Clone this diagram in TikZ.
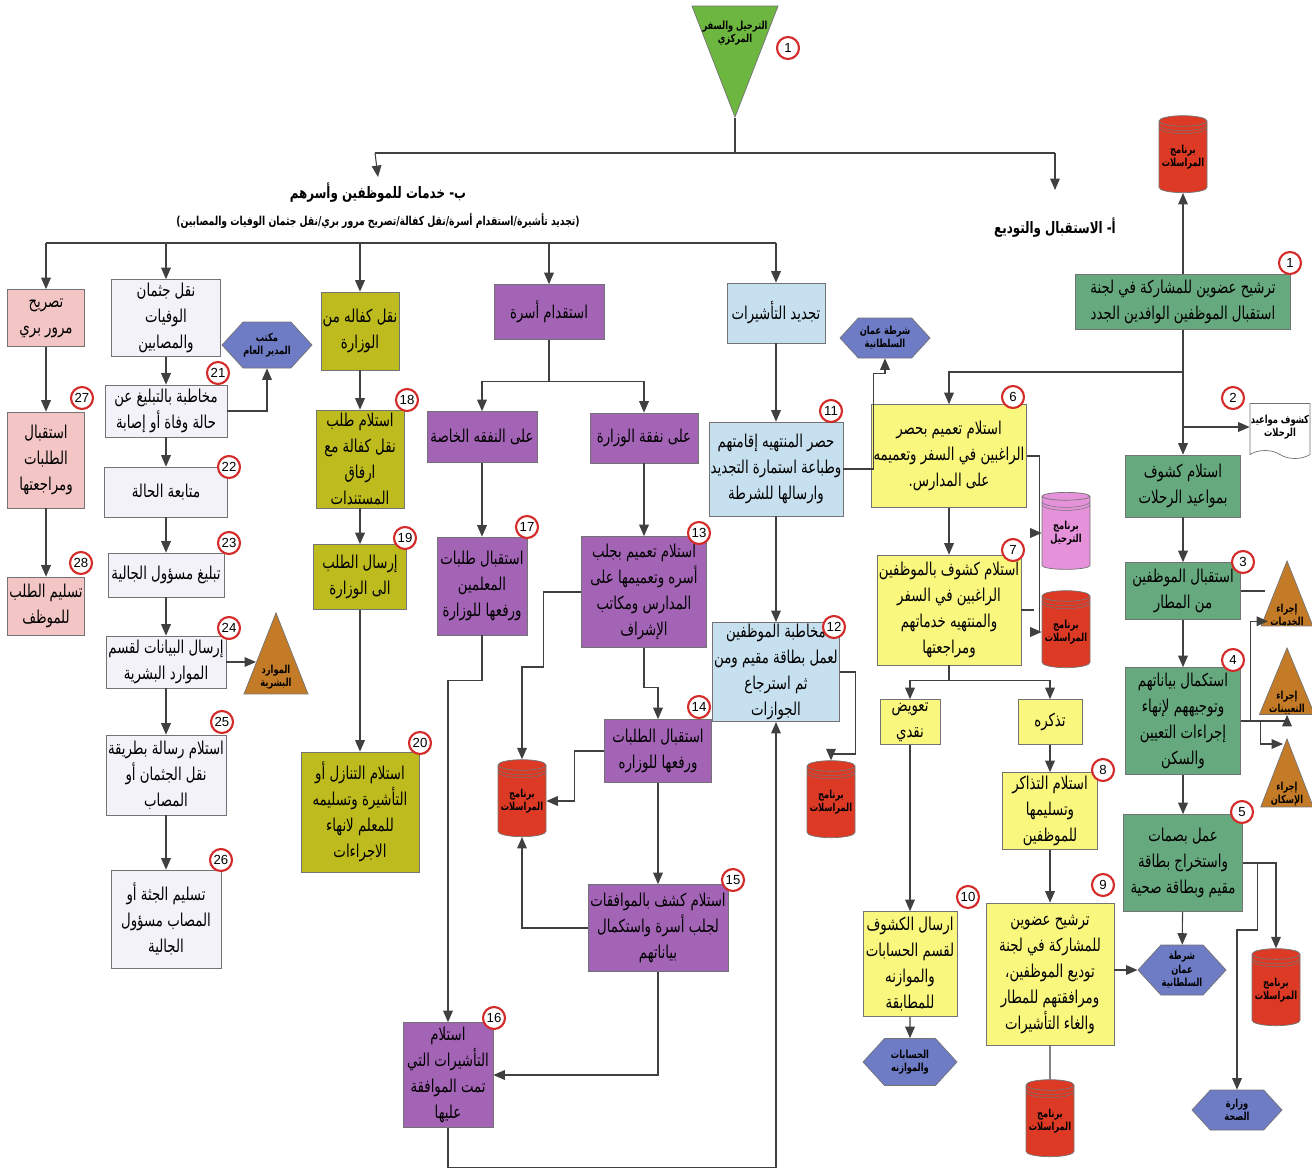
\documentclass[tikz,border=0pt]{standalone}
\usepackage{fontspec}
\setmainfont{Liberation Sans}
\newfontfamily\arabicfont[Script=Arabic, FakeStretch=0.75]{DejaVu Sans}
\usetikzlibrary{arrows.meta, shapes.geometric, shapes.symbols, calc}
\TeXXeTstate=1
\newcommand{\AR}[1]{\beginR#1\endR}
\definecolor{flowGreen}{HTML}{67A97E}
\definecolor{topGreen}{HTML}{6DB640}
\definecolor{flowYellow}{HTML}{F9F77E}
\definecolor{flowBlue}{HTML}{C6E0EF}
\definecolor{flowPurple}{HTML}{A464B6}
\definecolor{flowOlive}{HTML}{BEBB1E}
\definecolor{flowWhite}{HTML}{F2F2F8}
\definecolor{flowPink}{HTML}{F3C5C5}
\definecolor{cylRed}{HTML}{DD3A25}
\definecolor{cylPink}{HTML}{E592DA}
\definecolor{hexBlue}{HTML}{6E7CC6}
\definecolor{triBrown}{HTML}{C47B27}
\definecolor{ringRed}{HTML}{D42A2A}

\begin{document}
\begin{tikzpicture}[x=0.02cm, y=-0.02cm, >={Triangle[length=6.5pt,width=5.5pt]},
    sz/.style 2 args={minimum width=#1*0.02cm, minimum height=#2*0.02cm},
    box/.style={draw=black!55, fill=#1, align=center, inner sep=1pt,
                font=\arabicfont\fontsize{10.1}{14.8}\selectfont},
    lbl/.style={font=\arabicfont\bfseries\fontsize{6.3}{7.6}\selectfont, align=center},
    cyl/.style={cylinder, shape border rotate=90, aspect=0.25, draw=black!55,
                cylinder uses custom fill, cylinder body fill=#1, cylinder end fill=#1,
                sz={48}{77}, inner sep=0pt, lbl,
                path picture={\foreach \k in {1,2}
                  \draw[black!55, line width=0.3pt]
                    ([yshift=-0.12cm-\k*0.06cm]path picture bounding box.north west)
                    arc[start angle=180, end angle=360, x radius=0.48cm, y radius=0.12cm];}},
    tri/.style={isosceles triangle, isosceles triangle stretches, shape border rotate=90,
                draw=black!55, fill=#1, inner sep=0pt, lbl},
    hex/.style={signal, signal to=west and east, signal pointer angle=95,
                draw=black!55, fill=hexBlue, inner sep=0pt, lbl},
    docshape/.style={tape, tape bend top=none, tape bend bottom=out and in, tape bend height=0.16cm,
                draw=black!55, fill=white, inner sep=0pt, lbl},
    hdg/.style={font=\arabicfont\bfseries\fontsize{9}{11}\selectfont},
    hdgsub/.style={font=\arabicfont\bfseries\fontsize{7}{9}\selectfont},
    num/.style={circle, draw=ringRed, line width=1.2pt, fill=white, inner sep=0pt,
                minimum size=0.44cm, font=\fontsize{7.5}{8}\selectfont},
    ln/.style={draw=black!75, line width=0.6pt},
    arr/.style={->, draw=black!75, line width=0.6pt}]

  \useasboundingbox (0,0) rectangle (1312,1174);

  % top
  \node[tri=topGreen, shape border rotate=270, anchor=apex, sz={86}{111}] (T) at (735,118) {};
  \node[lbl] (Tlbl) at (735,33) {\AR{الترحيل والسفر}\\\AR{المركزي}};
  \node[hdg] (secB) at (378,193) {\AR{ب- خدمات للموظفين وأسرهم}};
  \node[hdgsub] (secBsub) at (378,221)
        {\AR{(تجديد تأشيرة/استقدام أسرة/نقل كفالة/تصريح مرور بري/نقل جثمان الوفيات والمصابين)}};
  \node[hdg] (secA) at (1055,228) {\AR{أ- الاستقبال والتوديع}};

  % a - reception and farewell
  \node[cyl=cylRed] (cylTop) at (1183,157) {\AR{برنامج}\\\AR{المراسلات}};
  \node[box=flowGreen, sz={215}{55}] (r1) at (1183,302)
        {\AR{ترشيح عضوين للمشاركة في لجنة}\\\AR{استقبال الموظفين الوافدين الجدد}};
  \node[docshape, sz={60}{55}] (doc) at (1280,427) {\AR{كشوف مواعيد}\\\AR{الرحلات}};
  \node[box=flowGreen, sz={115}{62}] (r2) at (1183,486) {\AR{استلام كشوف}\\\AR{بمواعيد الرحلات}};
  \node[box=flowGreen, sz={115}{57}] (r3) at (1183,591) {\AR{استقبال الموظفين}\\\AR{من المطار}};
  \node[box=flowGreen, sz={115}{107}] (r4) at (1183,721)
        {\AR{استكمال بياناتهم}\\\AR{وتوجيههم لإنهاء}\\\AR{إجراءات التعيين}\\\AR{والسكن}};
  \node[box=flowGreen, sz={119}{97}] (r5) at (1183,863)
        {\AR{عمل بصمات}\\\AR{واستخراج بطاقة}\\\AR{مقيم وبطاقة صحية}};
  \node[tri=triBrown, anchor=apex, sz={50}{65}] (triA) at (1287,560) {\AR{إجراء}\\\AR{الخدمات}};
  \node[tri=triBrown, anchor=apex, sz={50}{65}] (triB) at (1287,647) {\AR{إجراء}\\\AR{التعيينات}};
  \node[tri=triBrown, anchor=apex, sz={50}{68}] (triC) at (1287,738) {\AR{إجراء}\\\AR{الإسكان}};
  \node[hex, sz={88}{50}] (hexPol2) at (1182,970) {\AR{شرطة}\\\AR{عمان}\\\AR{السلطانية}};
  \node[cyl=cylRed] (cylR5) at (1276,990) {\AR{برنامج}\\\AR{المراسلات}};
  \node[hex, sz={90}{40}] (hexHealth) at (1237,1110) {\AR{وزارة}\\\AR{الصحة}};

  \node[box=flowYellow, sz={142}{103}] (y6) at (949,456)
        {\AR{استلام تعميم بحصر}\\\AR{الراغبين في السفر وتعميمه}\\\AR{على المدارس.}};
  \node[box=flowYellow, sz={142}{110}] (y7) at (949,610)
        {\AR{استلام كشوف بالموظفين}\\\AR{الراغبين في السفر}\\\AR{والمنتهيه خدماتهم}\\\AR{ومراجعتها}};
  \node[cyl=cylPink] (cylPink) at (1066,533) {\AR{برنامج}\\\AR{الترحيل}};
  \node[cyl=cylRed] (cylY7) at (1066,632) {\AR{برنامج}\\\AR{المراسلات}};
  \node[box=flowYellow, sz={60}{45}] (cash) at (910,722) {\AR{تعويض}\\\AR{نقدي}};
  \node[box=flowYellow, sz={64}{45}] (ticket) at (1050,722) {\AR{تذكره}};
  \node[box=flowYellow, sz={95}{77}] (y8) at (1050,811)
        {\AR{استلام التذاكر}\\\AR{وتسليمها}\\\AR{للموظفين}};
  \node[box=flowYellow, sz={128}{142}] (y9) at (1050,974)
        {\AR{ترشيح عضوين}\\\AR{للمشاركة في لجنة}\\\AR{توديع الموظفين،}\\\AR{ومرافقتهم للمطار}\\\AR{والغاء التأشيرات}};
  \node[cyl=cylRed] (cylY9) at (1050,1121) {\AR{برنامج}\\\AR{المراسلات}};
  \node[box=flowYellow, sz={94}{105}] (y10) at (910,964)
        {\AR{ارسال الكشوف}\\\AR{لقسم الحسابات}\\\AR{والموازنه}\\\AR{للمطابقة}};
  \node[hex, sz={94}{47}] (hexAcc) at (910,1062) {\AR{الحسابات}\\\AR{والموازنه}};

  % b - services
  \node[box=flowBlue, sz={98}{60}] (b0) at (776,313) {\AR{تجديد التأشيرات}};
  \node[hex, sz={90}{40}] (hexPol1) at (885,338) {\AR{شرطة عمان}\\\AR{السلطانية}};
  \node[box=flowBlue, sz={121}{94}] (b11) at (776,469)
        {\AR{حصر المنتهيه إقامتهم}\\\AR{وطباعة استمارة التجديد}\\\AR{وارسالها للشرطة}};
  \node[box=flowBlue, sz={118}{91}] (b12) at (776,672)
        {\AR{مخاطبة الموظفين}\\\AR{لعمل بطاقة مقيم ومن}\\\AR{ثم استرجاع}\\\AR{الجوازات}};
  \node[cyl=cylRed] (cylB) at (831,802) {\AR{برنامج}\\\AR{المراسلات}};

  \node[box=flowPurple, sz={110}{55}] (p0) at (549,312) {\AR{استقدام أسرة}};
  \node[box=flowPurple, sz={110}{51}] (pPriv) at (482,437) {\AR{على النفقه الخاصة}};
  \node[box=flowPurple, sz={108}{50}] (pMin) at (644,438) {\AR{على نفقة الوزارة}};
  \node[box=flowPurple, sz={125}{111}] (p13) at (644,592)
        {\AR{استلام تعميم بجلب}\\\AR{أسره وتعميمها على}\\\AR{المدارس ومكاتب}\\\AR{الإشراف}};
  \node[box=flowPurple, sz={90}{98}] (p17) at (482,586)
        {\AR{استقبال طلبات}\\\AR{المعلمين}\\\AR{ورفعها للوزارة}};
  \node[box=flowPurple, sz={107}{63}] (p14) at (658,751) {\AR{استقبال الطلبات}\\\AR{ورفعها للوزاره}};
  \node[cyl=cylRed] (cylP) at (522,801) {\AR{برنامج}\\\AR{المراسلات}};
  \node[box=flowPurple, sz={140}{87}] (p15) at (658,928)
        {\AR{استلام كشف بالموافقات}\\\AR{لجلب أسرة واستكمال}\\\AR{بياناتهم}};
  \node[box=flowPurple, sz={90}{105}] (p16) at (448,1075)
        {\AR{استلام}\\\AR{التأشيرات التي}\\\AR{تمت الموافقة}\\\AR{عليها}};

  \node[box=flowOlive, sz={76}{78}] (o0) at (360,331) {\AR{نقل كفاله من}\\\AR{الوزارة}};
  \node[box=flowOlive, sz={88}{98}] (o18) at (360,459)
        {\AR{استلام طلب}\\\AR{نقل كفالة مع}\\\AR{ارفاق}\\\AR{المستندات}};
  \node[box=flowOlive, sz={93}{65}] (o19) at (360,577) {\AR{إرسال الطلب}\\\AR{الى الوزارة}};
  \node[box=flowOlive, sz={118}{120}] (o20) at (360,812)
        {\AR{استلام التنازل أو}\\\AR{التأشيرة وتسليمه}\\\AR{للمعلم لانهاء}\\\AR{الاجراءات}};

  \node[box=flowWhite, sz={109}{77}] (w0) at (166,318) {\AR{نقل جثمان}\\\AR{الوفيات}\\\AR{والمصابين}};
  \node[hex, sz={90}{46}] (hexDG) at (267,345) {\AR{مكتب}\\\AR{المدير العام}};
  \node[box=flowWhite, sz={122}{52}] (w21) at (166,411) {\AR{مخاطبة بالتبليغ عن}\\\AR{حالة وفاة أو إصابة}};
  \node[box=flowWhite, sz={123}{50}] (w22) at (166,492) {\AR{متابعة الحالة}};
  \node[box=flowWhite, sz={116}{44}] (w23) at (166,575) {\AR{تبليغ مسؤول الجالية}};
  \node[box=flowWhite, sz={120}{52}] (w24) at (166,662) {\AR{إرسال البيانات لقسم}\\\AR{الموارد البشرية}};
  \node[tri=triBrown, anchor=apex, sz={64}{81}] (triHR) at (276,612) {\AR{الموارد}\\\AR{البشرية}};
  \node[box=flowWhite, sz={120}{80}] (w25) at (166,775)
        {\AR{استلام رسالة بطريقة}\\\AR{نقل الجثمان أو}\\\AR{المصاب}};
  \node[box=flowWhite, sz={110}{98}] (w26) at (166,919)
        {\AR{تسليم الجثة أو}\\\AR{المصاب مسؤول}\\\AR{الجالية}};

  \node[box=flowPink, sz={77}{57}] (k0) at (46,318) {\AR{تصريح}\\\AR{مرور بري}};
  \node[box=flowPink, sz={77}{96}] (k27) at (46,460) {\AR{استقبال}\\\AR{الطلبات}\\\AR{ومراجعتها}};
  \node[box=flowPink, sz={75}{58}] (k28) at (46,606) {\AR{تسليم الطلب}\\\AR{للموظف}};

  % connectors
  \coordinate (hl) at (375,153);
  \coordinate (hr) at (1055,153);
  \coordinate (aEnd) at (1055,190);
  \draw[ln] (T.apex) -- (T.apex |- hl);
  \draw[ln] (hl) -- (hr);
  \draw[arr] (hl) -- (secB.north);
  \draw[arr] (hr) -- (aEnd);

  \coordinate (j1) at (1183,372);
  \draw[arr] (r1) -- (cylTop);
  \draw[arr] (j1) -| (y6.north);
  \draw[arr] (r2.north |- doc.west) -- (doc.west);
  \foreach \a/\b in {r1/r2,r2/r3,r3/r4,r4/r5,r5/hexPol2} {
    \draw[arr] (\a) -- (\b);
  }
  \draw[ln] (r3.east) -- (r3.east -| triA.west);
  \draw[arr] (r4.east) -- ++(10,0) |- ($(triA.lower side)+(-19,-5)$);
  \draw[arr] (r4.east) -| (triB.lower side);
  \draw[arr] (r4.east) -- ++(20,0) |- ($(triC.apex)+(-4,6)$);
  \coordinate (j5) at ($(r5.east)+(15,0)$);
  \draw[arr] (r5.east) -| (cylR5.north);
  \draw[arr] (j5) -- ++(0,67) -| (hexHealth.north);
  \draw[arr] (y9.east |- hexPol2.west) -- (hexPol2.west);

  \draw[arr] (y6) -- (y7);
  \draw[arr] (y6.east) -- ++(13,0) |- (cylPink.west);
  \draw[arr] (y6.east) -- ++(13,0) |- (cylY7.west);
  \draw[ln] (y7.east) -- ++(13,0);
  \draw[arr] (y7.south) -- ++(0,15) -| (cash.north);
  \draw[arr] (y7.south) -- ++(0,15) -| (ticket.north);
  \foreach \a/\b in {ticket/y8,y8/y9,cash/y10,y10/hexAcc} {
    \draw[arr] (\a) -- (\b);
  }
  \draw[ln] (y9) -- (cylY9);

  \coordinate (bl) at (46,243);
  \coordinate (br) at (776,243);
  \draw[ln] (bl) -- (br);
  \foreach \n in {k0,w0,o0,p0,b0} {
    \draw[arr] (\n.north |- bl) -- (\n.north);
  }

  \draw[arr] (b0) -- (b11);
  \draw[arr] (b11) -- (b12);
  \draw[arr] (b11.east) -- ++(30,0) |- ($(hexPol1.south)+(0,15)$) -- (hexPol1.south);
  \draw[arr] (b12.east) -- ++(16,0) -- ++(0,82) -| (cylB.north);

  \draw[arr] (p0.south) -- ++(0,42) -| (pPriv.north);
  \draw[arr] (p0.south) -- ++(0,42) -| (pMin.north);
  \draw[arr] (pMin) -- (p13);
  \draw[arr] (pPriv) -- (p17);
  \draw[arr] (p17.south) -- ++(0,45) -| (p16.north);
  \draw[arr] (p13.west) -- ++(-38,0) -- ++(0,75) -| (cylP.north);
  \draw[arr] (p13.south) -- ++(0,40) -| (p14.north);
  \draw[arr] (p14.west) -- ++(-30,0) |- (cylP.east);
  \draw[arr] (p14) -- (p15);
  \draw[arr] (p15.west) -| (cylP.south);
  \draw[arr] (p15.south) |- (p16.east);
  \draw[arr] (p16.south) -- ++(0,40) -| (b12.south);

  \foreach \a/\b in {o0/o18,o18/o19,o19/o20,w0/w21,w21/w22,w22/w23,w23/w24,w24/w25,w25/w26,k0/k27,k27/k28} {
    \draw[arr] (\a) -- (\b);
  }
  \draw[arr] (w21.east) -| (hexDG.south);
  \draw[arr] (w24.east) -- ($(w24.east -| triHR.lower side)+(-20,0)$);

  % step numbers
  \foreach \x/\y/\n [count=\i] in {788/48/1, 1290/263/1, 1233/398/2, 1243/562/3, 1233/660/4,
      1242/812/5, 1013/397/6, 1013/550/7, 1103/770/8, 1103/885/9, 968/897/10, 831/411/11,
      834/627/12, 699/533/13, 699/707/14, 733/880/15, 494/1018/16, 527/527/17, 407/400/18,
      405/538/19, 420/743/20, 218/373/21, 229/467/22, 229/543/23, 229/628/24, 222/722/25,
      221/860/26, 82/398/27, 81/563/28} {
    \node[num] (num\i) at (\x,\y) {\n};
  }

\end{tikzpicture}
\end{document}
